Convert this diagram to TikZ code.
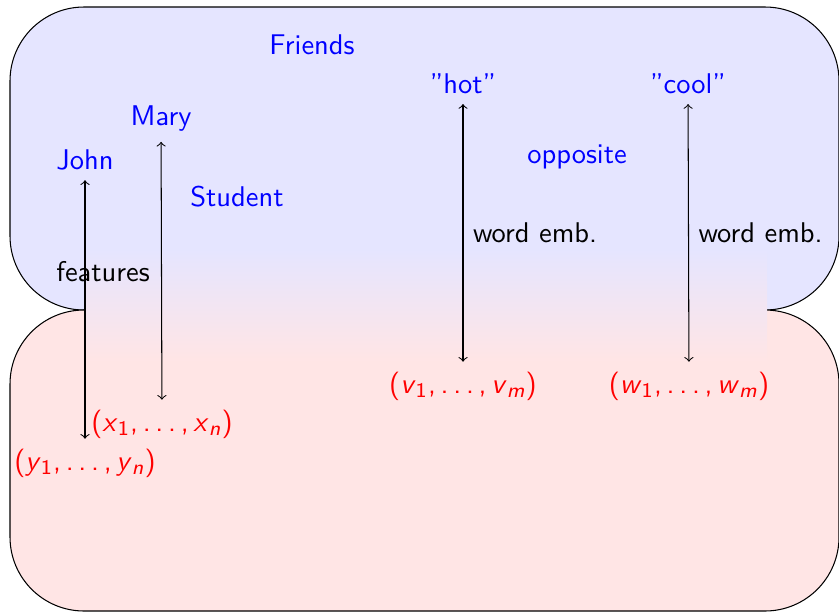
\documentclass[tikz,border=0pt,11pt]{standalone}
\usepackage{amsmath}
\usepackage{tikz}
\usetikzlibrary{arrows}

% a tuple set in slanted sans, like sans math
\newcommand{\tuple}[2]{(\textit{#1}\textsubscript{1},\,.\,.\,.\,,\,\textit{#1}\textsubscript{\textit{#2}})}
\newcommand{\qword}[1]{\textquotedblright#1\textquotedblright}

\begin{document}
\begin{tikzpicture}[x=0.0135cm,y=-0.0135cm]
\tikzstyle{every node}=[font=\sffamily]
\tikzstyle{concept}=[text=blue]
\tikzstyle{vec}=[text=red]
\tikzstyle{region}=[draw,rounded corners=1cm]
\useasboundingbox (0,0) rectangle (839,611);
% two spaces and the blend between them
\draw[region,fill=blue!10] (10,7) rectangle (839,310);
\draw[region,fill=red!10] (10,310) rectangle (839,611);
\shade[top color=blue!10,bottom color=red!10] (85,250) rectangle (767,360);
\draw
  (312, 45) node [concept] (friends)  {Friends}
  (463, 84) node [concept] (hot)      {\qword{hot}}
  (688, 84) node [concept] (cool)     {\qword{cool}}
  (161,119) node [concept] (mary)     {Mary}
  ( 85,160) node [concept] (john)     {John}
  (577,157) node [concept] (opposite) {opposite}
  (237,197) node [concept] (student)  {Student}
  (103,272) node           (features) {features}
  (463,386) node [vec]     (v)        {\tuple{v}{m}}
  (689,386) node [vec]     (w)        {\tuple{w}{m}}
  (162,424) node [vec]     (x)        {\tuple{x}{n}}
  ( 85,463) node [vec]     (y)        {\tuple{y}{n}}
;
\path[<->,draw]
(john) edge (y)
(mary) edge (x)
(hot)  edge node [right] {word emb.} (v)
(cool) edge node [right] {word emb.} (w)
;
\end{tikzpicture}
\end{document}
